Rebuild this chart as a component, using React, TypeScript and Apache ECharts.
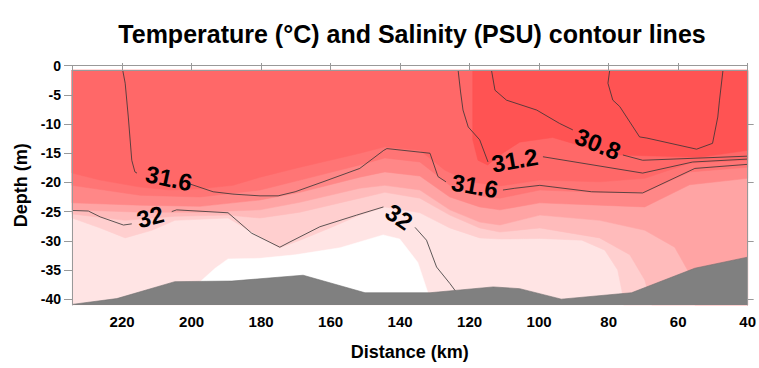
import React, { useEffect, useRef } from 'react';
import * as echarts from 'echarts';

// ---- axes ----
const X_MIN = 40;
const X_MAX = 234.4;
const Y_MIN = -41;
const Y_MAX = 0;
const DATA_TOP = -0.8;
const distanceTicks = [40, 60, 80, 100, 120, 140, 160, 180, 200, 220];
const depthTicks = [-40, -35, -30, -25, -20, -15, -10, -5, 0];
const rightTicks = [-40, -30, -20, -10];

// ---- temperature bands: lower boundary of each band [distance km, depth m] ----
const band1 = [[234.4,-18.4],[226.3,-19.6],[214.8,-20.8],[206.2,-21.3],[197.6,-21.1],[188.1,-20.5],[180.3,-19.1],[168.8,-17.4],[151.6,-15.0],[144.4,-13.9],[134.3,-14.5],[127.1,-17.9],[119.9,-19.9],[111.3,-20.6],[99.8,-19.6],[82.6,-19.9],[69.6,-19.3],[56.7,-16.7],[40,-16.2]];
const band2 = [[234.4,-20.5],[214.8,-22.2],[197.6,-22.5],[180.3,-21.3],[168.8,-19.6],[151.6,-17.0],[144.4,-15.8],[134.3,-16.5],[125.7,-20.5],[117.1,-22.3],[111.3,-22.7],[99.8,-21.3],[82.6,-21.7],[69.6,-21.7],[56.7,-18.2],[40,-17.4]];
const band3 = [[234.4,-23.5],[214.8,-23.9],[197.6,-24.1],[180.3,-23.0],[168.8,-21.7],[151.6,-19.1],[144.4,-18.2],[134.3,-18.9],[125.7,-22.5],[117.1,-24.2],[111.3,-24.7],[99.8,-23.5],[82.6,-23.9],[69.6,-24.2],[56.7,-20.4],[40,-19.3]];
const band4 = [[234.4,-24.7],[214.8,-25.1],[197.6,-25.1],[180.3,-24.7],[168.8,-23.4],[151.6,-21.0],[144.4,-20.5],[134.3,-21.3],[125.7,-24.7],[117.1,-26.8],[111.3,-27.3],[99.8,-25.6],[82.6,-26.5],[69.6,-28.2],[61.0,-31.1],[57.3,-35.0],[55.2,-41],[40,-41]];
const band5 = [[234.4,-25.4],[219.1,-26.5],[204.8,-25.8],[189.5,-25.6],[180.3,-26.1],[168.8,-25.1],[151.6,-22.7],[144.4,-21.7],[134.3,-22.7],[125.7,-25.6],[117.1,-27.8],[111.3,-28.5],[99.8,-27.8],[82.6,-29.5],[73.9,-32.4],[69.6,-36.7],[67.6,-41],[40,-41]];
const band6 = [[234.4,-26.1],[226.3,-27.8],[219.1,-29.5],[211.4,-28.2],[204.8,-26.5],[189.5,-26.1],[182.6,-28.5],[174.6,-31.2],[168.8,-29.9],[160.2,-27.8],[151.6,-25.6],[144.4,-24.2],[134.3,-25.2],[125.7,-27.8],[117.1,-29.5],[111.3,-29.7],[99.8,-29.6],[87.7,-29.9],[81.1,-31.6],[77.4,-35.0],[76.2,-38.5],[75.7,-41],[40,-41]];
const coldCore = [[198.1,-37.3],[193.2,-34.7],[189.5,-33.1],[180.3,-33.0],[170.2,-32.4],[157.3,-31.2],[144.9,-29.0],[140.1,-29.7],[134.9,-33.7],[132.0,-38.9],[131.4,-41],[198.7,-41]];
const warmCore = [[119.1,-0.8],[119.1,-12.7],[117.6,-16.2],[114.8,-17.0],[111.3,-15.3],[105.6,-13.1],[96.1,-12.3],[86.3,-14.0],[76.8,-15.3],[53.8,-15.7],[40,-14.5],[40,-0.8]];

// ---- seabed ----
const seabed = [[234.4,-40.9],[221.5,-39.9],[204.8,-37.0],[188.4,-36.9],[167.9,-35.9],[150.1,-38.9],[131.4,-38.9],[113.2,-37.9],[105.6,-38.2],[93.6,-40.0],[73.4,-38.9],[55.2,-34.7],[40,-32.8]];

// ---- salinity contour lines (segments broken at labels) ----
const sal316 = [
  [[219.8,-0.8],[219.1,-3.0],[218.2,-8.8],[217.2,-16.2],[216.3,-18.2],[215.7,-18.4]],
  [[201.3,-20.1],[193.8,-21.6],[188.1,-22.0],[180.3,-22.3],[175.1,-22.3],[170.2,-21.6],[162.2,-19.9],[151.6,-17.6],[144.7,-14.5],[143.8,-14.2],[131.4,-15.0],[129.1,-19.0],[126.8,-19.9]],
  [[110.4,-21.3],[107.0,-21.0],[99.8,-20.5],[84.9,-21.6],[70.2,-21.8],[55.2,-17.6],[40,-16.9]],
];
const sal312 = [
  [[123.3,-0.8],[122.6,-4.5],[121.9,-7.6],[120.4,-10.5],[117.1,-12.7],[114.7,-16.5]],
  [[98.9,-15.6],[70.2,-18.4],[55.8,-16.5],[40,-16.0]],
];
const sal308 = [
  [[113.7,-0.8],[112.7,-4.2],[109.4,-5.9],[100.7,-7.6],[94.1,-9.9],[90.3,-11.0]],
  [[75.9,-15.3],[70.2,-16.2],[40,-15.5]],
];
const sal304 = [
  [[79.7,-0.8],[80.2,-3.0],[78.8,-5.9],[76.8,-7.0],[71.1,-12.2],[69.0,-12.4],[54.7,-14.3],[50.1,-13.3],[48.6,-8.8],[48.1,-5.9],[47.1,-0.8]],
];
const sal32 = [
  [[234.4,-24.8],[229.7,-24.9],[226.3,-25.9],[219.6,-27.3],[217.2,-27.1]],
  [[205.7,-25.0],[204.3,-24.7],[189.5,-25.2],[182.7,-28.7],[174.6,-31.1],[171.7,-30.2],[163.1,-27.6],[152.5,-25.6],[144.8,-24.2]],
  [[135.7,-27.7],[132.4,-29.9],[129.5,-34.5],[125.7,-37.3],[124.2,-38.5]],
];

// ---- contour labels ----
const labelText = ['31.6', '32', '31.6', '32', '31.2', '30.8'];
const labelPos = [[206.5,-19.3],[211.9,-25.9],[118.5,-20.6],[140.3,-25.9],[107.0,-16.2],[83.1,-13.4]];
const labelAngle = [-12, 15, -10, -35, 10, -22];

const FONT = '"Liberation Sans", Arial, Helvetica, sans-serif';

function bandPolygon(b: number[][]) {
  return [[X_MAX, DATA_TOP], ...b, [X_MIN, DATA_TOP]];
}

export default function App() {
  const ref = useRef<HTMLDivElement>(null);
  useEffect(() => {
    if (!ref.current) return;
    const chart = echarts.init(ref.current, undefined, { renderer: 'svg' });

    const polys = [
      [[X_MAX, DATA_TOP], [X_MIN, DATA_TOP], [X_MIN, Y_MIN], [X_MAX, Y_MIN]],
      coldCore,
      bandPolygon(band6),
      bandPolygon(band5),
      bandPolygon(band4),
      bandPolygon(band3),
      bandPolygon(band2),
      bandPolygon(band1),
      warmCore,
    ];
    const polyColors = ['#FFE4E4', '#FFFFFF', '#FFCFCF', '#FFBBBB', '#FFA4A4', '#FF8787', '#FF7575', '#FF6868', '#FF5353'];

    const lineSeries: any[] = [];
    [sal316, sal312, sal308, sal304, sal32].forEach((segs) => {
      segs.forEach((seg) => {
        lineSeries.push({
          type: 'line',
          data: seg,
          symbol: 'none',
          showSymbol: false,
          silent: true,
          z: 4,
          lineStyle: { color: '#333', width: 0.8 },
        });
      });
    });

    const option: any = {
      animation: false,
      grid: { left: 72, right: 11, top: 65.7, bottom: 63, containLabel: false },
      graphic: [
        {
          type: 'text',
          x: 412,
          y: 34,
          style: {
            text: 'Temperature (°C) and Salinity (PSU) contour lines',
            font: `bold 25px ${FONT}`,
            fill: '#000',
            align: 'center',
            verticalAlign: 'middle',
          },
        },
      ],
      xAxis: [
        {
          type: 'value',
          min: X_MIN,
          max: X_MAX,
          inverse: true,
          position: 'bottom',
          z: 10,
          name: 'Distance (km)',
          nameLocation: 'middle',
          nameGap: 38,
          nameTextStyle: { fontFamily: FONT, fontWeight: 'bold', fontSize: 18, color: '#000' },
          axisLine: { show: true, lineStyle: { color: '#999', width: 1 } },
          axisTick: { show: true, inside: false, length: 5, customValues: distanceTicks, lineStyle: { color: '#999' } },
          axisLabel: { customValues: distanceTicks, margin: 9, fontFamily: FONT, fontWeight: 'bold', fontSize: 15, color: '#000' },
          splitLine: { show: false },
        },
        {
          type: 'value',
          min: X_MIN,
          max: X_MAX,
          inverse: true,
          position: 'top',
          offset: -4.3,
          z: 10,
          axisLine: { show: true, lineStyle: { color: '#999', width: 1 } },
          axisTick: { show: true, inside: false, length: 7, customValues: distanceTicks, lineStyle: { color: '#999' } },
          axisLabel: { show: false },
          splitLine: { show: false },
        },
      ],
      yAxis: [
        {
          type: 'value',
          min: Y_MIN,
          max: Y_MAX,
          position: 'left',
          z: 10,
          name: 'Depth (m)',
          nameLocation: 'middle',
          nameGap: 42,
          nameRotate: 90,
          nameTextStyle: { fontFamily: FONT, fontWeight: 'bold', fontSize: 18, color: '#000' },
          axisLine: { show: true, lineStyle: { color: '#999', width: 1 } },
          axisTick: { show: true, inside: false, length: 8, customValues: depthTicks, lineStyle: { color: '#999' } },
          axisLabel: { customValues: depthTicks, margin: 11, fontFamily: FONT, fontWeight: 'bold', fontSize: 14, color: '#000' },
          splitLine: { show: false },
        },
        {
          type: 'value',
          min: Y_MIN,
          max: Y_MAX,
          position: 'right',
          z: 10,
          axisLine: { show: true, lineStyle: { color: '#999', width: 1 } },
          axisTick: { show: true, inside: false, length: 6, customValues: rightTicks, lineStyle: { color: '#999' } },
          axisLabel: { show: false },
          splitLine: { show: false },
        },
      ],
      series: [
        {
          type: 'custom',
          coordinateSystem: 'cartesian2d',
          silent: true,
          z: 1,
          data: polys.map(() => [X_MIN, DATA_TOP]),
          renderItem: (params: any, api: any) => {
            const i = params.dataIndex;
            const pts = polys[i].map((p) => api.coord(p));
            return { type: 'polygon', shape: { points: pts }, style: { fill: polyColors[i], stroke: polyColors[i], lineWidth: 0.5 } };
          },
        },
        {
          type: 'line',
          data: seabed,
          symbol: 'none',
          showSymbol: false,
          silent: true,
          z: 3,
          lineStyle: { color: '#6f6f6f', width: 0.6 },
          areaStyle: { color: '#808080', opacity: 1, origin: 'start' },
        },
        ...lineSeries,
        {
          type: 'custom',
          coordinateSystem: 'cartesian2d',
          silent: true,
          z: 5,
          data: labelPos,
          renderItem: (params: any, api: any) => {
            const i = params.dataIndex;
            const c = api.coord(labelPos[i]);
            return {
              type: 'text',
              x: c[0],
              y: c[1],
              rotation: (labelAngle[i] * Math.PI) / 180,
              style: {
                text: labelText[i],
                font: `bold 24px ${FONT}`,
                fill: '#000',
                align: 'center',
                verticalAlign: 'middle',
              },
            };
          },
        },
      ],
    };
    chart.setOption(option);
    return () => chart.dispose();
  }, []);
  return <div ref={ref} style={{ position: 'absolute', left: 0, top: 0, width: 759, height: 368 }} />;
}
